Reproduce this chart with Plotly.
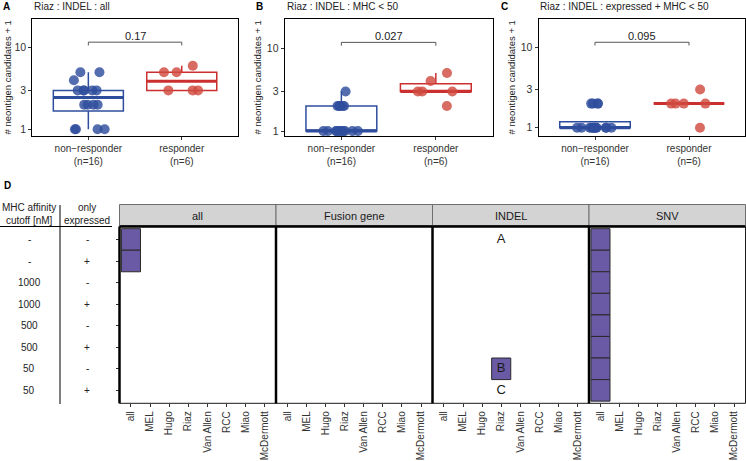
import numpy as np
import plotly.graph_objects as go

W, H = 746, 461
FONT = "Liberation Sans, Arial, Helvetica, sans-serif"

# ---------------- data: panels A-C ----------------
group_labels = ["non\u2212responder<br>(n=16)", "responder<br>(n=6)"]
panel_letters = ["A", "B", "C"]
panel_titles = ["Riaz : INDEL : all", "Riaz : INDEL : MHC < 50",
                "Riaz : INDEL : expressed + MHC < 50"]
p_values = ["0.17", "0.027", "0.095"]
y_tick_vals = [1, 3, 10]
y_title = "# neontigen candidates + 1"

all_nonresp = [1, 1, 1, 1, 2, 2, 2, 2, 3, 3, 3, 3, 3, 4, 5, 5]
all_resp = [3, 3, 3, 5, 5, 6]
mhc50_nonresp = [1, 1, 1, 1, 1, 1, 1, 1, 1, 1, 2, 2, 2, 2, 2, 3]
mhc50_resp = [2, 3, 3, 3, 4, 5]
expr_mhc50_nonresp = [1, 1, 1, 1, 1, 1, 1, 1, 1, 1, 1, 1, 2, 2, 2, 2]
expr_mhc50_resp = [1, 2, 2, 2, 2, 3]

panel_data = [(all_nonresp, all_resp),
              (mhc50_nonresp, mhc50_resp),
              (expr_mhc50_nonresp, expr_mhc50_resp)]

# ---------------- data: panel D ----------------
mutation_types = ["all", "Fusion gene", "INDEL", "SNV"]
cohorts = ["all", "MEL", "Hugo", "Riaz", "Van Allen", "RCC", "Miao", "McDermott"]
mhc_cutoff = ["-", "-", "1000", "1000", "500", "500", "50", "50"]
only_expressed = ["-", "+", "-", "+", "-", "+", "-", "+"]
table_header = ["MHC affinity<br>cutoff [nM]", "only<br>expressed"]

sig_type = ["all", "all", "INDEL", "SNV", "SNV", "SNV", "SNV", "SNV", "SNV", "SNV", "SNV"]
sig_cohort = ["all", "all", "Riaz", "all", "all", "all", "all", "all", "all", "all", "all"]
sig_row = [0, 1, 6, 0, 1, 2, 3, 4, 5, 6, 7]

letter_text = ["A", "B", "C"]
letter_type = ["INDEL", "INDEL", "INDEL"]
letter_cohort = ["Riaz", "Riaz", "Riaz"]
letter_row = [0, 6, 7]

# ---------------- style / geometry ----------------
BLUE = "#2E4D9C"
RED_BOX = "#CC2F2F"
RED_PT = "#CF4B3F"
PURPLE = "#6A5AA5"
TXT = "#333333"

def px_x(p):
    return p / W

def px_y(p):
    return 1 - p / H

top_x_dom = [(32.3, 237.8), (284.7, 492.5), (538.6, 745.4)]
top_y_px = (19, 136)
top_y_rng = [(-0.082, 1.352), (-0.06, 1.35), (-0.104, 1.359)]
ytitle_x = [7, 257, 511]
letter_x = [1, 254, 499]
title_x = [32, 285, 538]
bracket_y = 11.7
tip = 10 ** 0.04


def box_stats(vals):
    lv = np.log10(np.asarray(vals, float))
    q1, med, q3 = np.percentile(lv, [25, 50, 75])
    iqr = q3 - q1
    lo = lv[lv >= q1 - 1.5 * iqr].min()
    hi = lv[lv <= q3 + 1.5 * iqr].max()
    return [10 ** v for v in (q1, med, q3, lo, hi)]


fig = go.Figure()
layout = dict(
    width=W, height=H, autosize=False,
    margin=dict(l=0, r=0, t=0, b=0, pad=0),
    paper_bgcolor="white", plot_bgcolor="white",
    showlegend=False, barmode="overlay", boxmode="overlay",
    font=dict(family=FONT, size=10, color=TXT),
)
annotations = []
shapes = []


def note(**kw):
    kw.setdefault("showarrow", False)
    kw.setdefault("xanchor", "center")
    kw.setdefault("yanchor", "middle")
    annotations.append(kw)


for k in range(3):
    sfx = "" if k == 0 else str(k + 1)
    xa, ya = "x" + sfx, "y" + sfx
    cols_box = [BLUE, RED_BOX]
    cols_pt = [BLUE, RED_PT]
    for j, vals in enumerate(panel_data[k]):
        g = group_labels[j]
        q1, med, q3, lo, hi = box_stats(vals)
        fig.add_trace(go.Box(
            x=[g], q1=[q1], median=[med], q3=[q3], lowerfence=[lo], upperfence=[hi],
            width=0.75, whiskerwidth=0, boxpoints=False,
            line=dict(color=cols_box[j], width=1.5),
            fillcolor="rgba(255,255,255,0)", xaxis=xa, yaxis=ya, hoverinfo="skip"))
        fig.add_trace(go.Box(
            x=[g], q1=[med], median=[med], q3=[med], lowerfence=[med], upperfence=[med],
            width=0.75, whiskerwidth=0, boxpoints=False,
            line=dict(color=cols_box[j], width=3),
            fillcolor="rgba(255,255,255,0)", xaxis=xa, yaxis=ya, hoverinfo="skip"))
        fig.add_trace(go.Box(
            x=[g] * len(vals), y=vals, boxpoints="all", jitter=0.6, pointpos=0,
            width=0.75, line=dict(width=0, color="rgba(0,0,0,0)"),
            fillcolor="rgba(0,0,0,0)",
            marker=dict(size=10, color=cols_pt[j], opacity=0.82, line=dict(width=0)),
            xaxis=xa, yaxis=ya))
    # significance bracket
    fig.add_trace(go.Scatter(
        x=[group_labels[0], group_labels[0], group_labels[1], group_labels[1]],
        y=[bracket_y / tip, bracket_y, bracket_y, bracket_y / tip],
        mode="lines", line=dict(color="#555555", width=1),
        xaxis=xa, yaxis=ya, hoverinfo="skip"))
    note(x=0.5, y=np.log10(bracket_y), xref=xa, yref=ya, text=p_values[k],
         yshift=6, font=dict(size=11, color="#222222"))
    x0, x1 = top_x_dom[k]
    layout["xaxis" + sfx] = dict(
        domain=[px_x(x0), px_x(x1)], anchor=ya, type="category",
        categoryorder="array", categoryarray=group_labels, range=[-0.6, 1.6],
        showline=True, mirror=True, linecolor="black", linewidth=1.2,
        ticks="outside", ticklen=3, tickcolor="#333", showgrid=False,
        automargin=False, tickfont=dict(size=10, color=TXT))
    layout["yaxis" + sfx] = dict(
        domain=[px_y(top_y_px[1]), px_y(top_y_px[0])], anchor=xa, type="log",
        range=list(top_y_rng[k]), tickvals=y_tick_vals,
        ticktext=[str(v) for v in y_tick_vals],
        showline=True, mirror=True, linecolor="black", linewidth=1.2,
        ticks="outside", ticklen=3, tickcolor="#333", showgrid=False, zeroline=False,
        automargin=False, tickfont=dict(size=10.5, color=TXT))
    note(x=px_x(ytitle_x[k]), y=px_y(77.5), xref="paper", yref="paper",
         text=y_title, textangle=-90, font=dict(size=9.5, color="#222222"))
    note(x=px_x(letter_x[k]), y=px_y(7), xref="paper", yref="paper",
         text="<b>%s</b>" % panel_letters[k], xanchor="left",
         font=dict(size=10, color="black"))
    note(x=px_x(title_x[k]), y=px_y(7), xref="paper", yref="paper",
         text=panel_titles[k], xanchor="left", font=dict(size=10, color="#222222"))

# ---------------- panel D ----------------
facet_left = 119.5
facet_w = 156.5
d_top, d_bot = 226.5, 403.3
strip_top = 204.5

for f, mt in enumerate(mutation_types):
    n = 4 + f
    xa, ya = "x%d" % n, "y%d" % n
    # invisible anchor trace so every facet's axes exist
    fig.add_trace(go.Scatter(x=[cohorts[0]], y=[None], mode="markers",
                             xaxis=xa, yaxis=ya, hoverinfo="skip", showlegend=False))
    idx = [i for i, t in enumerate(sig_type) if t == mt]
    if idx:
        fig.add_trace(go.Bar(
            x=[sig_cohort[i] for i in idx], y=[1] * len(idx),
            base=[sig_row[i] - 0.5 for i in idx], width=1,
            marker=dict(color=PURPLE, line=dict(color="#2a2a2a", width=1)),
            xaxis=xa, yaxis=ya, hoverinfo="skip"))
    lidx = [i for i, t in enumerate(letter_type) if t == mt]
    if lidx:
        fig.add_trace(go.Scatter(
            x=[letter_cohort[i] for i in lidx], y=[letter_row[i] for i in lidx],
            text=[letter_text[i] for i in lidx], mode="text",
            textfont=dict(size=13, color="#1a1a1a", family=FONT),
            xaxis=xa, yaxis=ya, hoverinfo="skip"))
    x0 = facet_left + f * facet_w
    x1 = x0 + facet_w
    layout["xaxis%d" % n] = dict(
        domain=[px_x(x0), px_x(x1)], anchor=ya, type="category",
        categoryorder="array", categoryarray=cohorts, range=[-0.6, 7.6],
        showline=False, ticks="outside", ticklen=3, tickcolor="#333",
        tickangle=-90, showgrid=False, automargin=False,
        tickfont=dict(size=10, color=TXT))
    layout["yaxis%d" % n] = dict(
        domain=[px_y(d_bot), px_y(d_top)], anchor=xa, range=[7.6, -0.6],
        tickvals=list(range(len(mhc_cutoff))), showticklabels=False,
        ticks="outside" if f == 0 else "", ticklen=3, tickcolor="#333",
        showgrid=False, zeroline=False, showline=False, automargin=False)
    # panel border
    shapes.append(dict(type="rect", xref=xa + " domain", yref=ya + " domain",
                       x0=0, x1=1, y0=0, y1=1, line=dict(color="#1a1a1a", width=1)))
    shapes.append(dict(type="line", xref=xa + " domain", yref=ya + " domain",
                       x0=0, x1=0, y0=0, y1=1, line=dict(color="black", width=2.5)))
    shapes.append(dict(type="line", xref=xa + " domain", yref=ya + " domain",
                       x0=0, x1=1, y0=1, y1=1, line=dict(color="black", width=2.5)))
    # strip
    shapes.append(dict(type="rect", xref=xa + " domain", yref="paper",
                       x0=0, x1=1, y0=px_y(d_top - 1), y1=px_y(strip_top),
                       fillcolor="#D3D3D3", line=dict(color="#6E6E6E", width=1),
                       layer="below"))
    note(x=0.5, y=px_y((strip_top + d_top) / 2), xref=xa + " domain", yref="paper",
         text=mt, font=dict(size=11, color="#1a1a1a"))

# left table
col_x = [29, 87]
for r in range(len(mhc_cutoff)):
    for c, vals in enumerate([mhc_cutoff, only_expressed]):
        note(x=px_x(col_x[c]), y=r, xref="paper", yref="y4", text=vals[r],
             font=dict(size=10, color="#222222"))
for c in range(2):
    note(x=px_x(col_x[c]), y=px_y(214), xref="paper", yref="paper",
         text=table_header[c], font=dict(size=10, color="#222222"))
shapes.append(dict(type="line", xref="paper", yref="paper",
                   x0=px_x(60), x1=px_x(60), y0=px_y(404), y1=px_y(205),
                   line=dict(color="black", width=1)))
shapes.append(dict(type="line", xref="paper", yref="paper",
                   x0=0, x1=px_x(112), y0=px_y(226.5), y1=px_y(226.5),
                   line=dict(color="black", width=1)))
note(x=px_x(2), y=px_y(186), xref="paper", yref="paper", text="<b>D</b>",
     xanchor="left", font=dict(size=10, color="black"))

layout["annotations"] = annotations
layout["shapes"] = shapes
fig.update_layout(**layout)
fig.write_html(
    "out.html",
    config={"displayModeBar": False},
    post_script="document.body.style.margin='0';document.body.style.padding='0';"
                "document.body.style.overflow='hidden';",
)
